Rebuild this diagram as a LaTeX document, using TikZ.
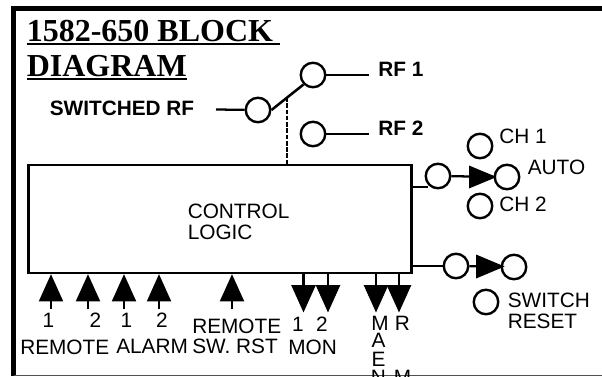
\documentclass[tikz,border=0pt]{standalone}
\usepackage{fontspec}
\setmainfont{Liberation Sans}
\newfontfamily\titlefont{Liberation Serif}
\usetikzlibrary{arrows.meta}
\tikzset{
	swcircle/.style={draw,circle,line width=1.8pt,minimum size=24.5*0.75pt,inner sep=0pt},
	lbl/.style={inner sep=0pt,anchor=base west,font=\fontsize{15.6pt}{15.6pt}\selectfont},
	mid/.style={inner sep=0pt,anchor=base,font=\fontsize{15.6pt}{15.6pt}\selectfont},
	boldlbl/.style={inner sep=0pt,anchor=base west,font=\fontsize{15.6pt}{15.6pt}\selectfont\bfseries},
	titlelbl/.style={inner sep=0pt,anchor=base west,font=\titlefont\fontsize{24pt}{24pt}\selectfont\bfseries},
	wire/.style={line width=1.7pt},
	sigarrow/.style={line width=1.7pt,-{Triangle[length=20.5pt,width=18pt]}},
	swarrow/.style={line width=1.5pt,fill=black,line join=miter}
}
\begin{document}
\begin{tikzpicture}[x=0.75pt,y=0.75pt,yscale=-1,xscale=1]
	\useasboundingbox (0,0) rectangle (602,376);
	
	% Frame
	\draw [line width=3.75pt] (602,8) -- (13.5,8) -- (13.5,376) ;
	\draw [line width=0.75pt,color={rgb, 255:red, 80; green, 80; blue, 80 }] (13.5,375.3) -- (602,375.3) ;
	
	% Text Node
	\node (titleone) [titlelbl] at (26.5,41.5) {1582-650 BLOCK\ };
	\node (titletwo) [titlelbl] at (26.5,76) {DIAGRAM};
	\node (swrf) [boldlbl] at (49.5,115) {SWITCHED RF};
	\node (rfone) [boldlbl] at (378,76) {RF 1};
	\node (rftwo) [boldlbl] at (378,135) {RF 2};
	
	% Title rules
	\draw [wire] (26.5,44.3) -- (280,44.3) ;
	\draw [wire] (26.5,79.3) -- (titletwo.base east |- 0,79.3) ;
	
	% Control box
	\node (logic) [draw,line width=1.7pt,minimum width=383*0.75pt,minimum height=108*0.75pt,inner sep=0pt] at (220,219) {};
	\node (ctrl) [lbl] at (187.5,218) {CONTROL};
	\node (lgc) [lbl] at (187.5,239) {LOGIC};
	
	% Switch circles
	\node (swin) [swcircle] at (258,110) {};
	\node (swone) [swcircle] at (313,75) {};
	\node (swtwo) [swcircle] at (313,134) {};
	\node (autoa) [swcircle] at (438,176) {};
	\node (autob) [swcircle] at (507,177) {};
	\node (chone) [swcircle] at (480,146) {};
	\node (chtwo) [swcircle] at (480,206) {};
	\node (rsta) [swcircle] at (456,266) {};
	\node (rstb) [swcircle] at (514,267) {};
	\node (rstc) [swcircle] at (486,302) {};
	
	% Right hand labels
	\node (chonel) [lbl] at (499,143) {CH 1};
	\node (autol) [lbl] at (527.5,174) {AUTO};
	\node (chtwol) [lbl] at (499,211) {CH 2};
	\node (swl) [lbl] at (507.5,307) {SWITCH};
	\node (rstl) [lbl] at (507.5,328) {RESET};
	
	% Free ends
	\coordinate (rfin) at (216,109.5);
	\coordinate (rfa) at (369,75);
	\coordinate (rfb) at (369,134);
	\coordinate (bladetop) at (287,97);
	\coordinate (stub) at (428,187);
	
	% Connection
	\draw [wire] (rfin) -- (swin) ;
	\draw [wire] (swone) -- (rfa) ;
	\draw [wire] (swtwo) -- (rfb) ;
	\draw [line width=1.9pt] (swin.east) -- (swone.south west) ;
	\draw [line width=1.7pt,dash pattern=on 3.5pt off 1.2pt] (bladetop) -- (bladetop |- logic.north) ;
	\draw [wire] (stub -| logic.east) -- (stub) ;
	\draw [wire] (rsta -| logic.east) -- (rsta) ;
	\draw [wire] (autoa) -- (autob) ;
	\draw [wire] (rsta) -- (rstb) ;
	
	% Switch arrows
	\draw [swarrow] (470,167) -- (494,177) -- (470,187) -- cycle ;
	\draw [swarrow] (477,256) -- (502,266.5) -- (477,277) -- cycle ;
	
	% Input arrows
	\coordinate (ina) at (51,309);
	\coordinate (inb) at (88,309);
	\coordinate (inc) at (124,309);
	\coordinate (ind) at (159,309);
	\coordinate (ine) at (232,309);
	\draw [sigarrow] (ina) -- (ina |- logic.south) ;
	\draw [sigarrow] (inb) -- (inb |- logic.south) ;
	\draw [sigarrow] (inc) -- (inc |- logic.south) ;
	\draw [sigarrow] (ind) -- (ind |- logic.south) ;
	\draw [sigarrow] (ine) -- (ine |- logic.south) ;
	
	% Output arrows
	\coordinate (outa) at (303.5,312.5);
	\coordinate (outb) at (328,312.5);
	\coordinate (outc) at (376,312.5);
	\coordinate (outd) at (399,312.5);
	\draw [sigarrow] (outa |- logic.south) -- (outa) ;
	\draw [sigarrow] (outb |- logic.south) -- (outb) ;
	\draw [sigarrow] (outc |- logic.south) -- (outc) ;
	\draw [sigarrow] (outd |- logic.south) -- (outd) ;
	
	% Bottom labels
	\node (nrema) [mid] at (48.5,327) {1};
	\node (nremb) [mid] at (95.5,327) {2};
	\node (nala) [mid] at (126.5,327) {1};
	\node (nalb) [mid] at (162,327) {2};
	\node (remote) [lbl] at (20,354.5) {REMOTE};
	\node (alarm) [lbl] at (116,353) {ALARM};
	\node (remrst) [lbl] at (192,333) {REMOTE};
	\node (swrst) [lbl] at (192,353.5) {SW. RST};
	\node (nmona) [mid] at (298,331) {1};
	\node (nmonb) [mid] at (322,331) {2};
	\node (mon) [lbl] at (288,354.5) {MON};
	\node (mm) [mid] at (380,330) {M};
	\node (ma) [mid] at (378.5,347.5) {A};
	\node (me) [mid] at (378.5,366) {E};
	\node (mn) [mid] at (378.5,384.5) {N};
	\node (rr) [mid] at (402.5,330) {R};
	\node (rm) [mid] at (402.5,384.5) {M};
	
\end{tikzpicture}
\end{document}
